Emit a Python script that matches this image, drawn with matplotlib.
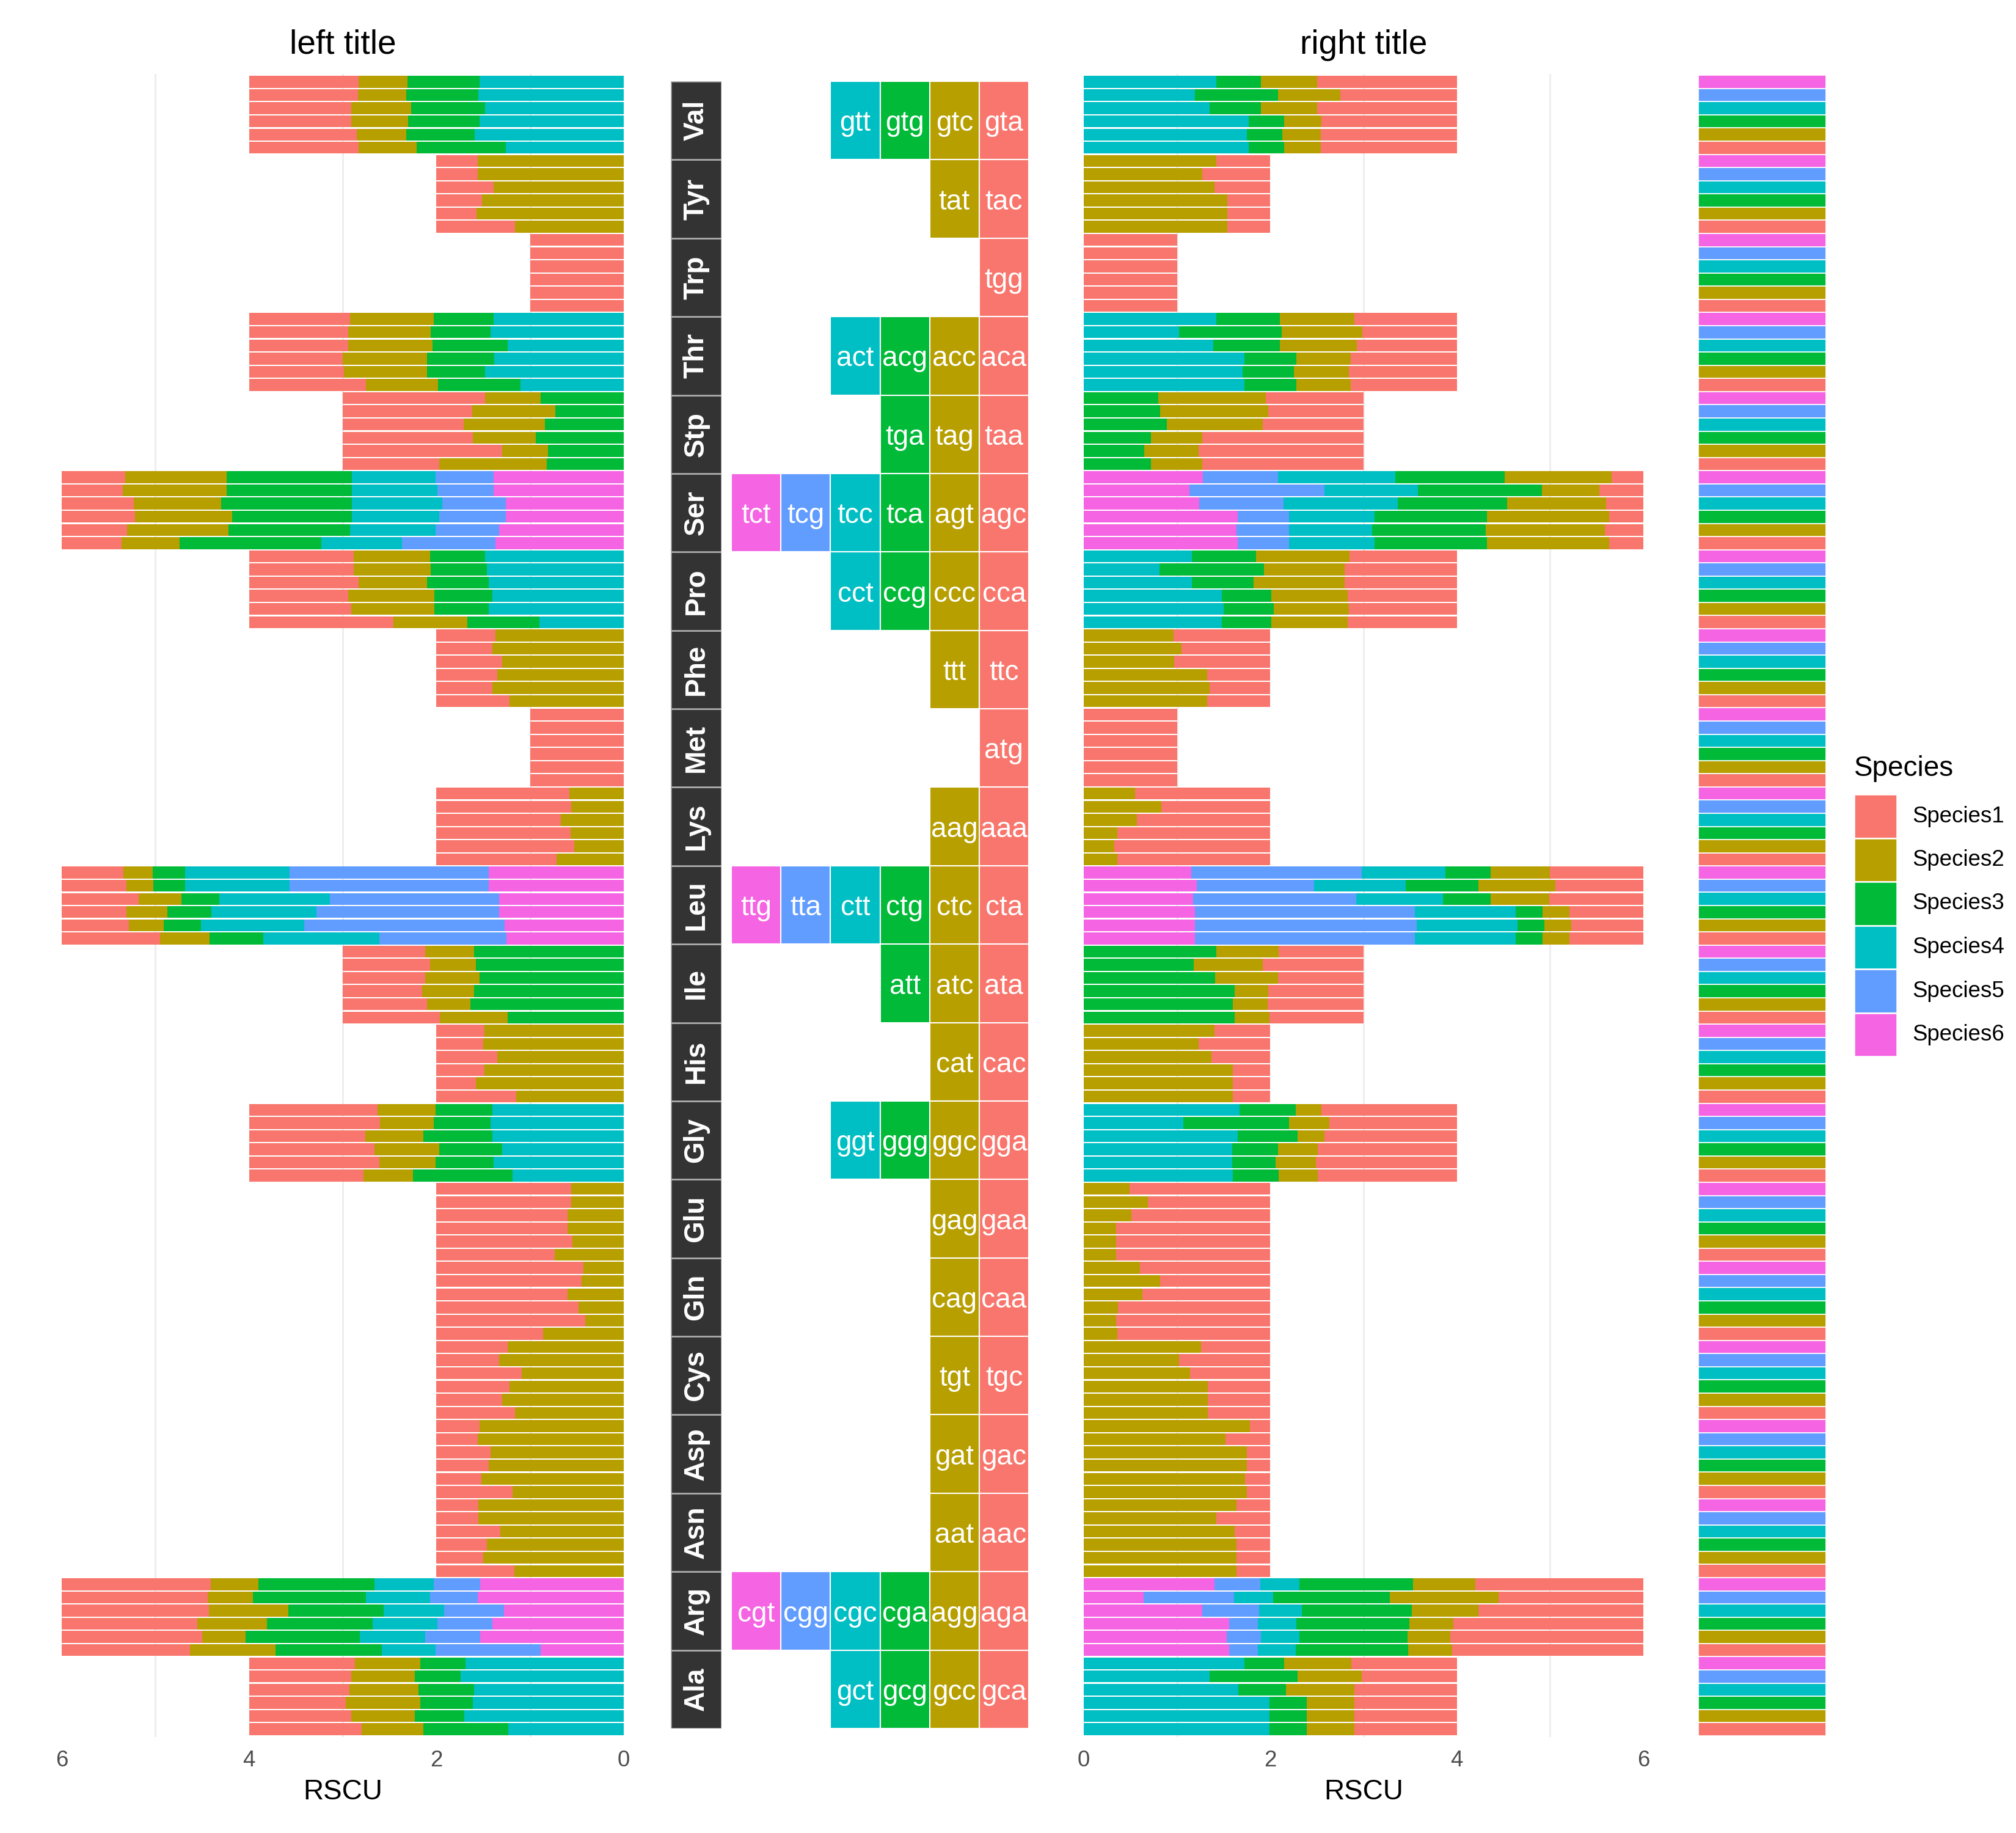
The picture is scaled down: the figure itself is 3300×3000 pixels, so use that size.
import numpy as np
import matplotlib.pyplot as plt
from matplotlib.patches import Rectangle

plt.rcParams['font.family'] = ['Liberation Sans', 'DejaVu Sans']

species = ['Species1', 'Species2', 'Species3', 'Species4', 'Species5', 'Species6']
palette = ['#F8766D', '#B79F00', '#00BA38', '#00BFC4', '#619CFF', '#F564E3']

# amino acids listed bottom -> top, as they sit on the y axis
amino_acids = ['Ala', 'Arg', 'Asn', 'Asp', 'Cys', 'Gln', 'Glu', 'Gly', 'His', 'Ile',
               'Leu', 'Lys', 'Met', 'Phe', 'Pro', 'Ser', 'Stp', 'Thr', 'Trp', 'Tyr', 'Val']

codons = {
    'Ala': ['gca', 'gcc', 'gcg', 'gct'],
    'Arg': ['aga', 'agg', 'cga', 'cgc', 'cgg', 'cgt'],
    'Asn': ['aac', 'aat'],
    'Asp': ['gac', 'gat'],
    'Cys': ['tgc', 'tgt'],
    'Gln': ['caa', 'cag'],
    'Glu': ['gaa', 'gag'],
    'Gly': ['gga', 'ggc', 'ggg', 'ggt'],
    'His': ['cac', 'cat'],
    'Ile': ['ata', 'atc', 'att'],
    'Leu': ['cta', 'ctc', 'ctg', 'ctt', 'tta', 'ttg'],
    'Lys': ['aaa', 'aag'],
    'Met': ['atg'],
    'Phe': ['ttc', 'ttt'],
    'Pro': ['cca', 'ccc', 'ccg', 'cct'],
    'Ser': ['agc', 'agt', 'tca', 'tcc', 'tcg', 'tct'],
    'Stp': ['taa', 'tag', 'tga'],
    'Thr': ['aca', 'acc', 'acg', 'act'],
    'Trp': ['tgg'],
    'Tyr': ['tac', 'tat'],
    'Val': ['gta', 'gtc', 'gtg', 'gtt'],
}

# RSCU values: one row per species (Species1..Species6), one column per codon
# ---- left panel ----
val_left = [[1.17, 0.62, 0.95, 1.26], [1.15, 0.53, 0.73, 1.59], [1.09, 0.61, 0.76, 1.54],
            [1.09, 0.64, 0.79, 1.48], [1.16, 0.52, 0.77, 1.55], [1.17, 0.52, 0.77, 1.54]]
tyr_left = [[0.84, 1.16], [0.43, 1.57], [0.49, 1.51], [0.61, 1.39], [0.44, 1.56], [0.44, 1.56]]
trp_left = [[1.0], [1.0], [1.0], [1.0], [1.0], [1.0]]
thr_left = [[1.25, 0.77, 0.88, 1.10], [1.01, 0.89, 0.62, 1.48], [1.00, 0.90, 0.72, 1.38],
            [1.06, 0.90, 0.80, 1.24], [1.06, 0.88, 0.64, 1.42], [1.08, 0.89, 0.64, 1.39]]
stp_left = [[1.03, 1.15, 0.82], [1.70, 0.49, 0.81], [1.39, 0.67, 0.94],
            [1.29, 0.87, 0.84], [1.38, 0.89, 0.73], [1.52, 0.59, 0.89]]
ser_left = [[0.64, 0.62, 1.51, 0.86, 1.00, 1.37], [0.70, 1.08, 1.30, 0.91, 0.68, 1.33],
            [0.78, 1.04, 1.28, 0.93, 0.71, 1.26], [0.77, 0.93, 1.40, 0.96, 0.68, 1.26],
            [0.65, 1.11, 1.34, 0.91, 0.60, 1.39], [0.68, 1.08, 1.34, 0.89, 0.62, 1.39]]
pro_left = [[1.54, 0.79, 0.77, 0.90], [1.09, 0.89, 0.58, 1.44], [1.06, 0.92, 0.62, 1.40],
            [1.17, 0.73, 0.66, 1.44], [1.12, 0.82, 0.60, 1.46], [1.12, 0.81, 0.59, 1.48]]
phe_left = [[0.78, 1.22], [0.60, 1.40], [0.65, 1.35], [0.70, 1.30], [0.60, 1.40], [0.63, 1.37]]
met_left = [[1.0], [1.0], [1.0], [1.0], [1.0], [1.0]]
lys_left = [[1.28, 0.72], [1.47, 0.53], [1.43, 0.57], [1.33, 0.67], [1.44, 0.56], [1.42, 0.58]]
leu_left = [[1.05, 0.53, 0.57, 1.24, 1.36, 1.25], [0.72, 0.37, 0.40, 1.10, 2.14, 1.27],
            [0.69, 0.44, 0.47, 1.12, 1.95, 1.33], [0.82, 0.46, 0.40, 1.18, 1.81, 1.33],
            [0.69, 0.29, 0.34, 1.11, 2.13, 1.44], [0.66, 0.31, 0.35, 1.11, 2.13, 1.44]]
ile_left = [[1.04, 0.72, 1.24], [0.90, 0.46, 1.64], [0.85, 0.55, 1.60],
            [0.88, 0.58, 1.54], [0.93, 0.49, 1.58], [0.88, 0.52, 1.60]]
his_left = [[0.85, 1.15], [0.42, 1.58], [0.51, 1.49], [0.65, 1.35], [0.50, 1.50], [0.51, 1.49]]
gly_left = [[1.22, 0.53, 1.06, 1.19], [1.39, 0.60, 0.62, 1.39], [1.34, 0.69, 0.67, 1.30],
            [1.24, 0.62, 0.74, 1.40], [1.40, 0.57, 0.61, 1.42], [1.37, 0.62, 0.61, 1.40]]
glu_left = [[1.26, 0.74], [1.45, 0.55], [1.40, 0.60], [1.40, 0.60], [1.44, 0.56], [1.44, 0.56]]
gln_left = [[1.14, 0.86], [1.59, 0.41], [1.52, 0.48], [1.40, 0.60], [1.55, 0.45], [1.57, 0.43]]
cys_left = [[0.84, 1.16], [0.70, 1.30], [0.78, 1.22], [0.91, 1.09], [0.67, 1.33], [0.76, 1.24]]
asp_left = [[0.81, 1.19], [0.48, 1.52], [0.56, 1.44], [0.58, 1.42], [0.44, 1.56], [0.46, 1.54]]
asn_left = [[0.83, 1.17], [0.50, 1.50], [0.54, 1.46], [0.68, 1.32], [0.45, 1.55], [0.45, 1.55]]
arg_left = [[1.37, 0.91, 1.14, 0.57, 1.12, 0.89], [1.50, 0.46, 1.22, 0.70, 0.59, 1.53],
            [1.45, 0.74, 1.13, 0.69, 0.59, 1.40], [1.57, 0.85, 1.02, 0.64, 0.64, 1.28],
            [1.56, 0.48, 1.21, 0.68, 0.51, 1.56], [1.59, 0.51, 1.24, 0.63, 0.50, 1.53]]
ala_left = [[1.20, 0.66, 0.91, 1.23], [1.09, 0.68, 0.53, 1.70], [1.03, 0.80, 0.56, 1.61],
            [1.07, 0.74, 0.59, 1.60], [1.09, 0.68, 0.49, 1.74], [1.13, 0.70, 0.48, 1.69]]

# ---- right panel ----
val_right = [[1.46, 0.39, 0.38, 1.77], [1.46, 0.41, 0.38, 1.75], [1.45, 0.40, 0.38, 1.77],
             [1.50, 0.60, 0.55, 1.35], [1.25, 0.67, 0.89, 1.19], [1.50, 0.60, 0.48, 1.42]]
tyr_right = [[0.46, 1.54], [0.46, 1.54], [0.46, 1.54], [0.60, 1.40], [0.73, 1.27], [0.58, 1.42]]
trp_right = [[1.0], [1.0], [1.0], [1.0], [1.0], [1.0]]
thr_right = [[1.14, 0.58, 0.56, 1.72], [1.16, 0.59, 0.55, 1.70], [1.14, 0.58, 0.56, 1.72],
             [1.07, 0.83, 0.71, 1.39], [1.01, 0.87, 1.10, 1.02], [1.10, 0.80, 0.68, 1.42]]
stp_right = [[1.73, 0.55, 0.72], [1.77, 0.58, 0.65], [1.73, 0.55, 0.72],
             [1.08, 1.03, 0.89], [1.02, 1.16, 0.82], [1.05, 1.15, 0.80]]
ser_right = [[0.37, 1.31, 1.20, 0.92, 0.55, 1.65], [0.41, 1.28, 1.22, 0.89, 0.56, 1.64],
             [0.37, 1.31, 1.20, 0.92, 0.55, 1.65], [0.40, 1.06, 1.17, 1.23, 0.90, 1.24],
             [0.47, 0.62, 1.33, 1.00, 1.45, 1.13], [0.34, 1.15, 1.17, 1.26, 0.80, 1.28]]
pro_right = [[1.17, 0.82, 0.53, 1.48], [1.16, 0.80, 0.54, 1.50], [1.17, 0.82, 0.53, 1.48],
             [1.20, 0.98, 0.66, 1.16], [1.20, 0.87, 1.12, 0.81], [1.15, 1.00, 0.69, 1.16]]
phe_right = [[0.68, 1.32], [0.65, 1.35], [0.68, 1.32], [1.03, 0.97], [0.95, 1.05], [1.04, 0.96]]
met_right = [[1.0], [1.0], [1.0], [1.0], [1.0], [1.0]]
lys_right = [[1.64, 0.36], [1.67, 0.33], [1.64, 0.36], [1.43, 0.57], [1.17, 0.83], [1.45, 0.55]]
leu_right = [[0.79, 0.29, 0.29, 1.08, 2.36, 1.19], [0.77, 0.29, 0.29, 1.08, 2.38, 1.19],
             [0.79, 0.29, 0.29, 1.08, 2.36, 1.19], [1.01, 0.63, 0.51, 0.93, 1.75, 1.17],
             [0.94, 0.83, 0.78, 0.98, 1.26, 1.21], [1.00, 0.64, 0.48, 0.90, 1.83, 1.15]]
ile_right = [[1.01, 0.37, 1.62], [1.03, 0.37, 1.60], [1.02, 0.36, 1.62],
             [0.92, 0.67, 1.41], [1.08, 0.74, 1.18], [0.91, 0.67, 1.42]]
his_right = [[0.40, 1.60], [0.40, 1.60], [0.40, 1.60], [0.63, 1.37], [0.77, 1.23], [0.60, 1.40]]
gly_right = [[1.49, 0.42, 0.49, 1.60], [1.51, 0.43, 0.47, 1.59], [1.49, 0.43, 0.49, 1.59],
             [1.42, 0.29, 0.64, 1.65], [1.37, 0.43, 1.13, 1.07], [1.45, 0.28, 0.60, 1.67]]
glu_right = [[1.65, 0.35], [1.65, 0.35], [1.65, 0.35], [1.49, 0.51], [1.31, 0.69], [1.51, 0.49]]
gln_right = [[1.64, 0.36], [1.65, 0.35], [1.63, 0.37], [1.37, 0.63], [1.18, 0.82], [1.40, 0.60]]
cys_right = [[0.67, 1.33], [0.67, 1.33], [0.67, 1.33], [0.86, 1.14], [0.98, 1.02], [0.74, 1.26]]
asp_right = [[0.25, 1.75], [0.27, 1.73], [0.25, 1.75], [0.25, 1.75], [0.48, 1.52], [0.22, 1.78]]
asn_right = [[0.36, 1.64], [0.36, 1.64], [0.36, 1.64], [0.38, 1.62], [0.58, 1.42], [0.36, 1.64]]
arg_right = [[2.05, 0.47, 1.21, 0.40, 0.31, 1.56], [2.07, 0.46, 1.16, 0.41, 0.37, 1.53],
             [2.04, 0.47, 1.21, 0.41, 0.31, 1.56], [1.77, 0.71, 1.18, 0.46, 0.61, 1.27],
             [1.55, 1.17, 1.25, 0.42, 0.97, 0.64], [1.80, 0.67, 1.22, 0.42, 0.49, 1.40]]
ala_right = [[1.10, 0.51, 0.40, 1.99], [1.10, 0.51, 0.40, 1.99], [1.10, 0.51, 0.40, 1.99],
             [1.10, 0.73, 0.51, 1.66], [1.02, 0.69, 0.94, 1.35], [1.13, 0.72, 0.43, 1.72]]

left_rscu = {'Ala': ala_left, 'Arg': arg_left, 'Asn': asn_left, 'Asp': asp_left, 'Cys': cys_left,
             'Gln': gln_left, 'Glu': glu_left, 'Gly': gly_left, 'His': his_left, 'Ile': ile_left,
             'Leu': leu_left, 'Lys': lys_left, 'Met': met_left, 'Phe': phe_left, 'Pro': pro_left,
             'Ser': ser_left, 'Stp': stp_left, 'Thr': thr_left, 'Trp': trp_left, 'Tyr': tyr_left,
             'Val': val_left}
right_rscu = {'Ala': ala_right, 'Arg': arg_right, 'Asn': asn_right, 'Asp': asp_right, 'Cys': cys_right,
              'Gln': gln_right, 'Glu': glu_right, 'Gly': gly_right, 'His': his_right, 'Ile': ile_right,
              'Leu': leu_right, 'Lys': lys_right, 'Met': met_right, 'Phe': phe_right, 'Pro': pro_right,
              'Ser': ser_right, 'Stp': stp_right, 'Thr': thr_right, 'Trp': trp_right, 'Tyr': tyr_right,
              'Val': val_right}

W, H = 3300, 3000
def box(x0, x1, y0, y1):
    # pixel box (y measured from the top) -> figure fraction
    return [x0 / W, 1 - y1 / H, (x1 - x0) / W, (y1 - y0) / H]

fig = plt.figure(figsize=(11, 10), dpi=300)
n_rows = 6 * len(amino_acids)

def draw_bars(ax, table, title, reverse):
    for v in (1, 3, 5):
        ax.axvline(v, color='#EBEBEB', lw=0.6, zorder=0)
    for g, aa in enumerate(amino_acids):
        vals = np.array(table[aa])
        rows = 6 * g + np.arange(1, 7)
        left = np.zeros(6)
        # last codon sits next to zero, first codon at the far end
        for c in range(vals.shape[1] - 1, -1, -1):
            ax.barh(rows, vals[:, c], left=left, height=0.9, color=palette[c], linewidth=0, zorder=2)
            left += vals[:, c]
    ax.set_ylim(0.4, n_rows + 0.6)
    ax.set_xlim((6, 0) if reverse else (0, 6))
    ax.set_xticks([0, 2, 4, 6])
    ax.set_yticks([])
    ax.tick_params(axis='x', length=0, pad=5, labelsize=8.8, labelcolor='#4D4D4D')
    for s in ax.spines.values():
        s.set_visible(False)
    ax.set_xlabel('RSCU', fontsize=11, labelpad=3)
    ax.set_title(title, fontsize=13.2, pad=8)

ax_l = fig.add_axes(box(101, 1021, 121, 2843))
draw_bars(ax_l, left_rscu, 'left title', True)
ax_r = fig.add_axes(box(1774, 2690, 121, 2843))
draw_bars(ax_r, right_rscu, 'right title', False)

# amino acid strips
ax_s = fig.add_axes(box(1098, 1181, 133, 2829))
ax_s.set_xlim(0, 1)
ax_s.set_ylim(0, len(amino_acids))
ax_s.axis('off')
for g, aa in enumerate(amino_acids):
    ax_s.add_patch(Rectangle((0, g), 1, 1, facecolor='#333333', edgecolor='#B0B0B0', lw=0.6))
    ax_s.text(0.5, g + 0.5, aa, rotation=90, ha='center', va='center', color='white',
              fontsize=11, fontweight='bold')

# codon tiles
ax_c = fig.add_axes(box(1197, 1684, 133, 2829))
ax_c.set_xlim(0.5, 6.5)
ax_c.set_ylim(0, len(amino_acids))
ax_c.axis('off')
for g, aa in enumerate(amino_acids):
    for i, cd in enumerate(codons[aa]):
        x = 6 - i
        ax_c.add_patch(Rectangle((x - 0.5, g), 1, 1, facecolor=palette[i], edgecolor='white', lw=0.5))
        ax_c.text(x, g + 0.46, cd, ha='center', va='center', color='white', fontsize=11)

# species colour column
ax_sp = fig.add_axes(box(2780, 2989, 121, 2843))
rows = np.arange(1, n_rows + 1)
ax_sp.barh(rows, 1, left=0, height=1, color=[palette[(r - 1) % 6] for r in rows],
           edgecolor='white', linewidth=0.4)
ax_sp.set_xlim(0, 1)
ax_sp.set_ylim(0.4, n_rows + 0.6)
ax_sp.axis('off')

# legend drawn by hand
ax_lg = fig.add_axes(box(3020, 3300, 1200, 1760))
ax_lg.set_xlim(3020, 3300)
ax_lg.set_ylim(1760, 1200)
ax_lg.axis('off')
ax_lg.text(3035, 1258, 'Species', fontsize=11, ha='left', va='center')
for i, sp in enumerate(species):
    y0 = 1300 + 71.5 * i
    ax_lg.add_patch(Rectangle((3035, y0), 70, 71.5, facecolor=palette[i], edgecolor='white', lw=0.6))
    ax_lg.text(3130, y0 + 36, sp, fontsize=8.8, ha='left', va='center')

fig.savefig('out.png', dpi=300, facecolor='white')
